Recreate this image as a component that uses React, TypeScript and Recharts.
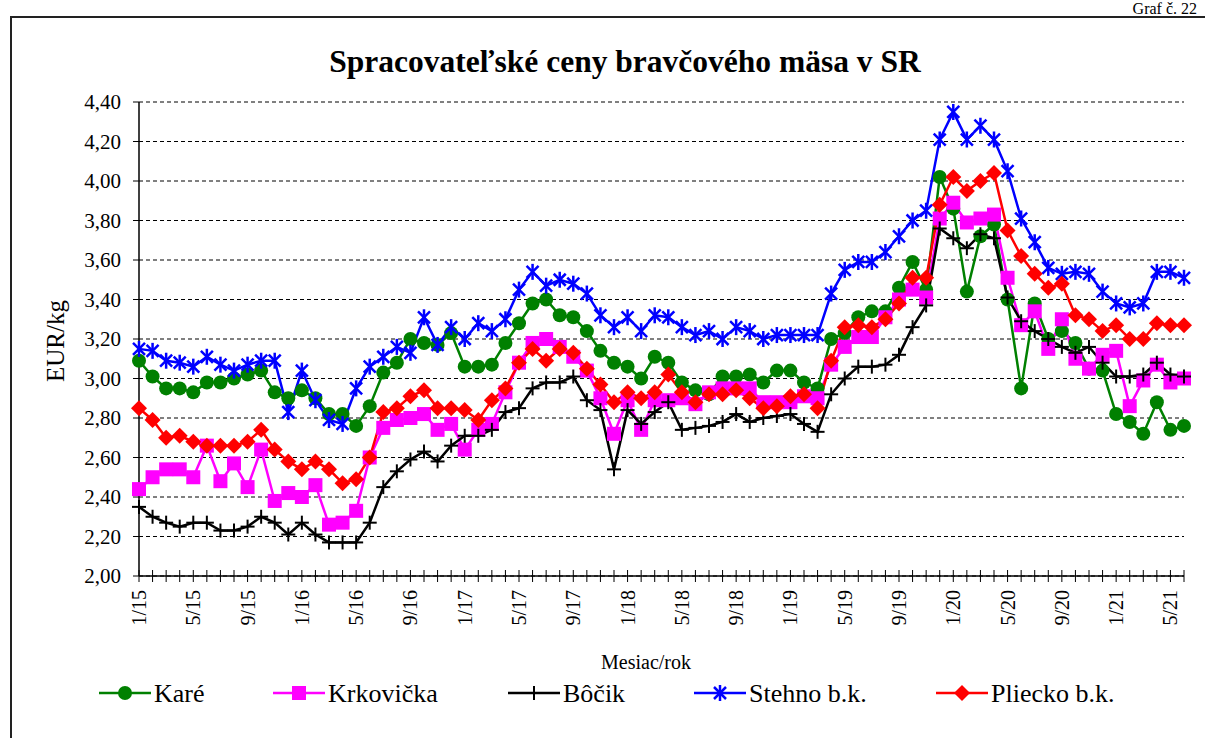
import React from "react";
import { LineChart, Line, XAxis, YAxis, CartesianGrid, Label } from "recharts";

const months = [
  "1/15", "2/15", "3/15", "4/15", "5/15", "6/15", "7/15", "8/15", "9/15", "10/15", "11/15", "12/15",
  "1/16", "2/16", "3/16", "4/16", "5/16", "6/16", "7/16", "8/16", "9/16", "10/16", "11/16", "12/16",
  "1/17", "2/17", "3/17", "4/17", "5/17", "6/17", "7/17", "8/17", "9/17", "10/17", "11/17", "12/17",
  "1/18", "2/18", "3/18", "4/18", "5/18", "6/18", "7/18", "8/18", "9/18", "10/18", "11/18", "12/18",
  "1/19", "2/19", "3/19", "4/19", "5/19", "6/19", "7/19", "8/19", "9/19", "10/19", "11/19", "12/19",
  "1/20", "2/20", "3/20", "4/20", "5/20", "6/20", "7/20", "8/20", "9/20", "10/20", "11/20", "12/20",
  "1/21", "2/21", "3/21", "4/21", "5/21", "6/21",
];

const kare = [
  3.09, 3.01, 2.95, 2.95, 2.93, 2.98, 2.98, 3.0, 3.02, 3.04, 2.93, 2.9,
  2.94, 2.9, 2.82, 2.82, 2.76, 2.86, 3.03, 3.08, 3.2, 3.18, 3.17, 3.23,
  3.06, 3.06, 3.07, 3.18, 3.28, 3.38, 3.4, 3.32, 3.31, 3.24, 3.14, 3.08,
  3.06, 3.0, 3.11, 3.08, 2.98, 2.94, 2.92, 3.01, 3.01, 3.02, 2.98, 3.04,
  3.04, 2.98, 2.95, 3.2, 3.23, 3.31, 3.34, 3.34, 3.46, 3.59, 3.45, 4.02,
  3.86, 3.44, 3.72, 3.78, 3.4, 2.95, 3.38, 3.2, 3.24, 3.18, 3.05, 3.04,
  2.82, 2.78, 2.72, 2.88, 2.74, 2.76,
];

const krkovicka = [
  2.44, 2.5, 2.54, 2.54, 2.5, 2.66, 2.48, 2.57, 2.45, 2.64, 2.38, 2.42,
  2.4, 2.46, 2.26, 2.27, 2.33, 2.6, 2.75, 2.79, 2.8, 2.82, 2.74, 2.77,
  2.64, 2.74, 2.77, 2.93, 3.08, 3.18, 3.2, 3.16, 3.11, 3.04, 2.9, 2.72,
  2.89, 2.74, 2.89, 2.89, 2.9, 2.87, 2.93, 2.95, 2.95, 2.95, 2.88, 2.88,
  2.88, 2.91, 2.9, 3.07, 3.16, 3.21, 3.21, 3.31, 3.4, 3.45, 3.41, 3.81,
  3.89, 3.79, 3.81, 3.83, 3.51, 3.27, 3.34, 3.15, 3.3, 3.1, 3.05, 3.12,
  3.14, 2.86, 2.99, 3.07, 2.98, 3.0,
];

const bocik = [
  2.35, 2.3, 2.27, 2.25, 2.27, 2.27, 2.23, 2.23, 2.25, 2.3, 2.27, 2.21,
  2.27, 2.21, 2.17, 2.17, 2.17, 2.27, 2.45, 2.53, 2.59, 2.63, 2.58, 2.66,
  2.71, 2.71, 2.74, 2.83, 2.85, 2.95, 2.98, 2.98, 3.01, 2.89, 2.84, 2.54,
  2.84, 2.77, 2.83, 2.88, 2.74, 2.75, 2.76, 2.78, 2.82, 2.78, 2.8, 2.81,
  2.82, 2.77, 2.73, 2.92, 3.0, 3.06, 3.06, 3.07, 3.12, 3.26, 3.37, 3.76,
  3.71, 3.66, 3.73, 3.71, 3.41, 3.29, 3.24, 3.2, 3.16, 3.13, 3.16, 3.08,
  3.01, 3.01, 3.02, 3.08, 3.02, 3.01,
];

const stehno = [
  3.15, 3.14, 3.09, 3.08, 3.06, 3.11, 3.07, 3.04, 3.07, 3.09, 3.09, 2.83,
  3.04, 2.89, 2.79, 2.77, 2.95, 3.06, 3.11, 3.16, 3.13, 3.31, 3.17, 3.26,
  3.2, 3.28, 3.24, 3.3, 3.45, 3.54, 3.47, 3.5, 3.48, 3.43, 3.32, 3.26,
  3.31, 3.24, 3.32, 3.31, 3.26, 3.22, 3.24, 3.2, 3.26, 3.24, 3.2, 3.22,
  3.22, 3.22, 3.22, 3.43, 3.55, 3.59, 3.59, 3.64, 3.72, 3.8, 3.85, 4.21,
  4.35, 4.21, 4.28, 4.21, 4.05, 3.81, 3.69, 3.56, 3.53, 3.54, 3.53, 3.44,
  3.38, 3.36, 3.38, 3.54, 3.54, 3.51,
];

const pliecko = [
  2.85, 2.79, 2.7, 2.71, 2.68, 2.66, 2.66, 2.66, 2.68, 2.74, 2.64, 2.58,
  2.54, 2.58, 2.54, 2.47, 2.49, 2.6, 2.83, 2.85, 2.91, 2.94, 2.85, 2.85,
  2.84, 2.79, 2.89, 2.95, 3.08, 3.15, 3.09, 3.15, 3.13, 3.05, 2.97, 2.88,
  2.93, 2.9, 2.93, 3.02, 2.93, 2.88, 2.92, 2.92, 2.94, 2.9, 2.85, 2.86,
  2.91, 2.92, 2.85, 3.09, 3.26, 3.27, 3.26, 3.3, 3.38, 3.51, 3.51, 3.88,
  4.02, 3.95, 4.0, 4.04, 3.75, 3.62, 3.53, 3.46, 3.48, 3.32, 3.3, 3.24,
  3.27, 3.2, 3.2, 3.28, 3.27, 3.27,
];

const yTicks = [2.0, 2.2, 2.4, 2.6, 2.8, 3.0, 3.2, 3.4, 3.6, 3.8, 4.0, 4.2, 4.4];

const rows = months.map((m, i) => ({
  m,
  kare: kare[i],
  krkovicka: krkovicka[i],
  bocik: bocik[i],
  stehno: stehno[i],
  pliecko: pliecko[i],
}));

const FONT = "'Liberation Serif', 'Times New Roman', serif";

// marker shapes, shared by the lines and the legend
type MarkProps = { cx: number; cy: number };

const CircleMark = ({ cx, cy }: MarkProps) => <circle cx={cx} cy={cy} r={7} fill="#008000" />;
const SquareMark = ({ cx, cy }: MarkProps) => (
  <rect x={cx - 7} y={cy - 7} width={14} height={14} fill="#ff00ff" />
);
const PlusMark = ({ cx, cy }: MarkProps) => (
  <g stroke="#000" strokeWidth={2}>
    <line x1={cx - 7} x2={cx + 7} y1={cy} y2={cy} />
    <line x1={cx} x2={cx} y1={cy - 7} y2={cy + 7} />
  </g>
);
const StarMark = ({ cx, cy }: MarkProps) => (
  <g stroke="#0000ff" strokeWidth={2.5}>
    <line x1={cx - 6} x2={cx + 6} y1={cy - 6} y2={cy + 6} />
    <line x1={cx - 6} x2={cx + 6} y1={cy + 6} y2={cy - 6} />
    <line x1={cx} x2={cx} y1={cy - 8} y2={cy + 8} />
  </g>
);
const DiamondMark = ({ cx, cy }: MarkProps) => (
  <polygon
    points={`${cx},${cy - 8} ${cx + 8},${cy} ${cx},${cy + 8} ${cx - 8},${cy}`}
    fill="#ff0000"
  />
);

const series = [
  { key: "kare", name: "Karé", color: "#008000", Mark: CircleMark, lx: 99 },
  { key: "krkovicka", name: "Krkovička", color: "#ff00ff", Mark: SquareMark, lx: 273 },
  { key: "bocik", name: "Bôčik", color: "#000000", Mark: PlusMark, lx: 508 },
  { key: "stehno", name: "Stehno b.k.", color: "#0000ff", Mark: StarMark, lx: 694 },
  { key: "pliecko", name: "Pliecko b.k.", color: "#ff0000", Mark: DiamondMark, lx: 936 },
];

// cross tick every month, label every 4th month
const MonthTick = (props: any) => {
  const { x, y, payload, index } = props;
  const ty = y + 14;
  return (
    <g>
      <line x1={x} x2={x} y1={y - 6} y2={y + 6} stroke="#000" strokeWidth={1} />
      {index % 4 === 0 && (
        <text
          x={x}
          y={ty}
          transform={`rotate(-90 ${x} ${ty})`}
          textAnchor="end"
          dominantBaseline="central"
          fontSize={20}
          fontFamily={FONT}
          fill="#000"
        >
          {payload.value}
        </text>
      )}
    </g>
  );
};

export default function App() {
  return (
    <div
      style={{
        position: "absolute",
        left: 0,
        top: 0,
        width: 1205,
        height: 738,
        overflow: "hidden",
        background: "#fff",
        fontFamily: FONT,
      }}
    >
      <div
        style={{
          position: "absolute",
          left: 10,
          top: 16,
          width: 1300,
          height: 800,
          border: "2px solid #222",
        }}
      />
      <div
        style={{
          position: "absolute",
          right: 8,
          top: 1,
          fontSize: 16,
          lineHeight: "15px",
          whiteSpace: "nowrap",
          color: "#000",
        }}
      >
        Graf č. 22
      </div>
      <div
        style={{
          position: "absolute",
          left: 0,
          width: 1250,
          top: 44,
          textAlign: "center",
          fontSize: 31.5,
          fontWeight: "bold",
          color: "#000",
        }}
      >
        Spracovateľské ceny bravčového mäsa v SR
      </div>

      <div style={{ position: "absolute", left: 0, top: 0 }}>
        <LineChart
          width={1205}
          height={738}
          data={rows}
          margin={{ top: 102, right: 21, bottom: 0, left: 0 }}
        >
          <CartesianGrid vertical={false} stroke="#000" strokeDasharray="4 3" />
          <XAxis
            dataKey="m"
            scale="point"
            padding={{ left: 0, right: 0 }}
            interval={0}
            height={162}
            tickSize={0}
            tickMargin={0}
            tickLine={false}
            axisLine={{ stroke: "#000", strokeWidth: 1.5 }}
            tick={<MonthTick />}
          >
            <Label
              content={() => (
                <text x={646} y={669} textAnchor="middle" fontSize={20} fontFamily={FONT} fill="#000">
                  Mesiac/rok
                </text>
              )}
            />
          </XAxis>
          <YAxis
            width={139}
            domain={[2, 4.4]}
            ticks={yTicks}
            allowDataOverflow
            tickSize={6}
            tickMargin={12}
            axisLine={{ stroke: "#000", strokeWidth: 1.5 }}
            tickLine={{ stroke: "#000" }}
            tick={{ fontSize: 21, fill: "#000", fontFamily: FONT }}
            tickFormatter={(v: number) => v.toFixed(2).replace(".", ",")}
          >
            <Label
              content={() => (
                <text
                  x={55}
                  y={341}
                  transform="rotate(-90 55 341)"
                  textAnchor="middle"
                  dominantBaseline="central"
                  fontSize={25}
                  fontFamily={FONT}
                  fill="#000"
                >
                  EUR/kg
                </text>
              )}
            />
          </YAxis>
          {series.map((s) => (
            <Line
              key={s.key}
              type="linear"
              dataKey={s.key}
              name={s.name}
              stroke={s.color}
              strokeWidth={2.5}
              isAnimationActive={false}
              dot={(p: any) => <s.Mark key={`${s.key}-${p.index}`} cx={p.cx} cy={p.cy} />}
              activeDot={false}
            />
          ))}
        </LineChart>
      </div>

      <svg width={1205} height={60} style={{ position: "absolute", left: 0, top: 665 }}>
        {series.map((s) => (
          <g key={s.key}>
            <line x1={s.lx} x2={s.lx + 52} y1={28} y2={28} stroke={s.color} strokeWidth={2.5} />
            <s.Mark cx={s.lx + 26} cy={28} />
            <text
              x={s.lx + 55}
              y={28}
              dominantBaseline="central"
              fontSize={26}
              fontFamily={FONT}
              fill="#000"
            >
              {s.name}
            </text>
          </g>
        ))}
      </svg>
    </div>
  );
}
